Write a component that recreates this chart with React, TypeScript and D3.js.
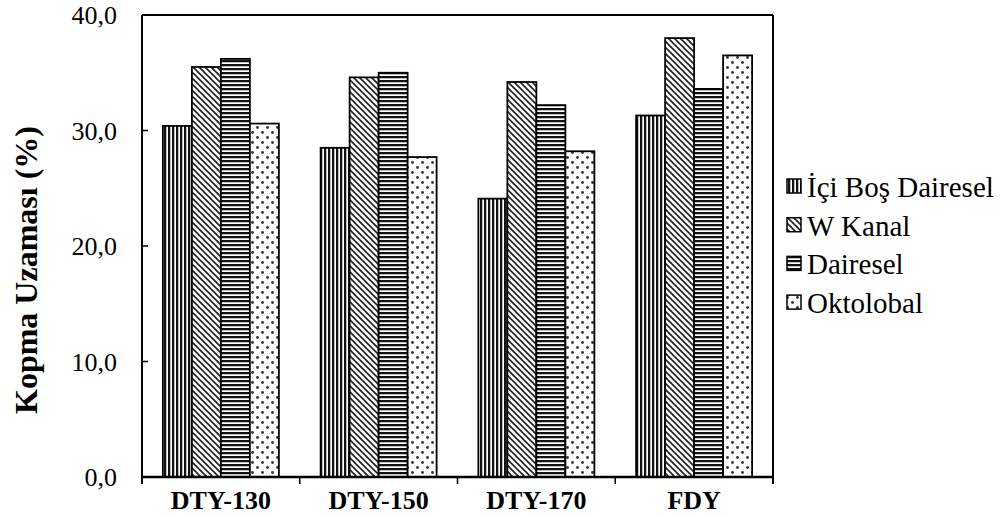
import React from "react";
import * as d3 from "d3";

const categories = ["DTY-130", "DTY-150", "DTY-170", "FDY"];
const seriesNames = ["İçi Boş Dairesel", "W Kanal", "Dairesel", "Oktolobal"];
const iciBos = [30.4, 28.5, 24.1, 31.3];
const wKanal = [35.5, 34.6, 34.2, 38.0];
const dairesel = [36.2, 35.0, 32.2, 33.6];
const oktolobal = [30.6, 27.7, 28.2, 36.5];
const yTicks = [0, 10, 20, 30, 40];
const yTitle = "Kopma Uzaması (%)";

const seriesValues = [iciBos, wKanal, dairesel, oktolobal];
const patternIds = ["pVert", "pDiag", "pHoriz", "pDots"];

export default function App() {
  const W = 1005, H = 517;
  const left = 142, right = 773, top = 15, bottom = 477;
  const x0 = d3.scaleBand<string>().domain(categories).range([left, right]).paddingInner(0).paddingOuter(0);
  const groupInner = d3.scaleBand<string>().domain(seriesNames).range([0, x0.bandwidth()]).paddingInner(0).paddingOuter(0.72);
  const y = d3.scaleLinear().domain([0, 40]).range([bottom, top]);
  const fmt = (v: number) => v.toFixed(1).replace(".", ",");
  const serif = '"Liberation Serif", "Times New Roman", Times, "DejaVu Serif", serif';
  const fs = (size: number, bold = false): React.CSSProperties => ({
    fontFamily: serif, fontSize: size, fontWeight: bold ? 700 : 400,
  });

  return (
    <svg width={W} height={H} style={{ position: "absolute", left: 0, top: 0, background: "#fff" }}>
      <defs>
        <pattern id="pVert" patternUnits="userSpaceOnUse" width={4} height={4}>
          <rect width={4} height={4} fill="#fff" />
          <rect x={0} y={0} width={2} height={4} fill="#111" />
          <rect x={2} y={0} width={0.6} height={4} fill="#999" />
        </pattern>
        <pattern id="pDiag" patternUnits="userSpaceOnUse" width={6} height={6}>
          <rect width={6} height={6} fill="#fff" />
          <path d="M-1,-1 L7,7 M-4,2 L2,8 M4,-2 L10,4" stroke="#222" strokeWidth={1.6} />
        </pattern>
        <pattern id="pHoriz" patternUnits="userSpaceOnUse" width={4} height={4}>
          <rect width={4} height={4} fill="#fff" />
          <rect x={0} y={0} width={4} height={2} fill="#111" />
          <rect x={0} y={2} width={4} height={0.6} fill="#999" />
        </pattern>
        <pattern id="pDots" patternUnits="userSpaceOnUse" width={10} height={10}>
          <rect width={10} height={10} fill="#fff" />
          <circle cx={2.5} cy={2.5} r={1.4} fill="#333" />
          <circle cx={7.5} cy={7.5} r={1.4} fill="#333" />
        </pattern>
      </defs>

      {/* plot frame */}
      <line x1={left} y1={top} x2={right} y2={top} stroke="#000" strokeWidth={2} />
      <line x1={right} y1={top} x2={right} y2={bottom + 7} stroke="#000" strokeWidth={2} />

      {/* bars */}
      {categories.map((c, ci) => (
        <g key={c}>
          {seriesNames.map((s, si) => {
            const bx = (x0(c) as number) + (groupInner(s) as number);
            const v = seriesValues[si][ci];
            return (
              <rect key={s} x={bx} y={y(v)} width={groupInner.bandwidth()} height={bottom - y(v)}
                fill={`url(#${patternIds[si]})`} stroke="#000" strokeWidth={1.8} />
            );
          })}
        </g>
      ))}

      {/* y axis */}
      <line x1={left} y1={top} x2={left} y2={bottom + 7} stroke="#000" strokeWidth={2} />
      {yTicks.map((t) => (
        <g key={t}>
          <line x1={left} x2={left + 6} y1={y(t)} y2={y(t)} stroke="#000" strokeWidth={1.5} />
          <text x={117} y={y(t)} dy="0.35em" textAnchor="end" style={fs(26)} fill="#000">
            {fmt(t)}
          </text>
        </g>
      ))}

      {/* x axis */}
      <line x1={left} y1={bottom} x2={right} y2={bottom} stroke="#000" strokeWidth={2.5} />
      {categories.map((c, i) => (
        <line key={"t" + i} x1={x0(c) as number} x2={x0(c) as number} y1={bottom} y2={bottom + 7} stroke="#000" strokeWidth={1.5} />
      ))}
      {categories.map((c) => (
        <text key={c} x={(x0(c) as number) + x0.bandwidth() / 2} y={509} textAnchor="middle"
          style={fs(26, true)} fill="#000">
          {c}
        </text>
      ))}

      {/* y title */}
      <text transform={`translate(37,270) rotate(-90)`} textAnchor="middle"
        style={fs(32, true)} fill="#000">
        {yTitle}
      </text>

      {/* legend */}
      {seriesNames.map((s, i) => {
        const base = 197 + i * 38.7;
        return (
          <g key={s}>
            <rect x={787} y={base - 18} width={14} height={14} fill={`url(#${patternIds[i]})`} stroke="#000" strokeWidth={1.5} />
            <text x={807} y={base} style={fs(29)} fill="#000">
              {s}
            </text>
          </g>
        );
      })}
    </svg>
  );
}
